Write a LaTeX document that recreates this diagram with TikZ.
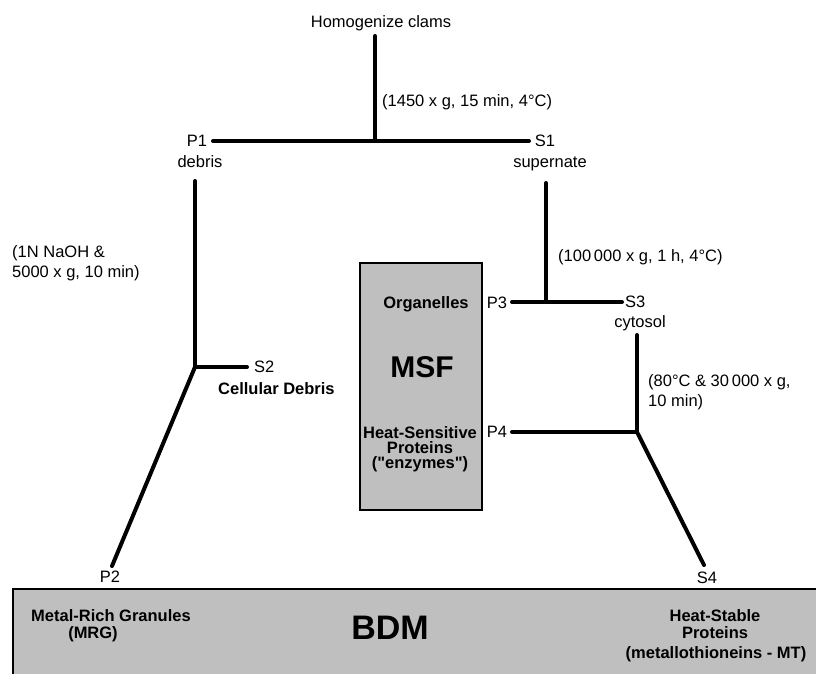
\documentclass[tikz,border=0pt]{standalone}
\usepackage{fontspec}
\setmainfont{Liberation Sans}[Ligatures=TeXOff]
\begin{document}
\begin{tikzpicture}[x=1pt,y=-1pt,
  lbl/.style={font=\fontsize{16.5}{20}\selectfont,inner sep=0pt,text depth=0pt},
  blbl/.style={font=\fontsize{16.5}{15.5}\selectfont\bfseries,inner sep=0pt,text depth=0pt,align=center},
  cond/.style={font=\fontsize{16.5}{20}\selectfont,inner sep=0pt,align=left,anchor=west},
  flow/.style={line width=4pt,line cap=round},
  box/.style={draw=black,line width=1.5pt,fill=boxgray}]
\definecolor{boxgray}{RGB}{191,191,191}
\useasboundingbox (0,0) rectangle (816,673);
\clip (0,0) rectangle (816,673);

% boxes
\draw[box] (360,263) rectangle (482,510);
\draw[box] (13,589) rectangle (830,700);

% coordinates
\coordinate (top) at (375,36);
\coordinate (j1) at (375,141);
\coordinate (p1e) at (213,141);
\coordinate (s1e) at (529,141);
\coordinate (l1) at (195,181);
\coordinate (j2) at (195,367);
\coordinate (s2e) at (247,367);
\coordinate (p2e) at (112,566);
\coordinate (r1) at (546,183);
\coordinate (j3) at (546,302);
\coordinate (p3e) at (512,302);
\coordinate (s3e) at (622,302);
\coordinate (r2) at (637,335);
\coordinate (j4) at (637,432);
\coordinate (p4e) at (512,432);
\coordinate (s4e) at (704,565);

% labels
\node[lbl] (hom) at (381,22) {Homogenize clams};
\node[lbl] (P1) at (197,141) {P1};
\node[lbl] (deb) at (200,162) {debris};
\node[lbl] (S1) at (545,141) {S1};
\node[lbl] (sup) at (550,162) {supernate};
\node[cond] (c1) at (382,102) {(1450 x g, 15 min, 4°C)};
\node[cond] (c2) at (12,263) {(1N NaOH \&\\5000 x g, 10 min)};
\node[lbl,anchor=west] (S2) at (254,367) {S2};
\node[blbl,anchor=west] (cd) at (218,389) {Cellular Debris};
\node[lbl] (P2) at (110,577) {P2};
\node[cond] (c3) at (558,257) {(100\,000 x g, 1 h, 4°C)};
\node[lbl,anchor=west] (S3) at (625,302) {S3};
\node[lbl] (cyt) at (640,322) {cytosol};
\node[cond] (c4) at (648,392) {(80°C \& 30\,000 x g,\\10 min)};
\node[lbl] (P3) at (497,303) {P3};
\node[lbl] (P4) at (497,432) {P4};
\node[lbl] (S4) at (707,578) {S4};

% MSF box texts
\node[blbl] (org) at (426,303) {Organelles};
\node[blbl,font=\fontsize{30}{30}\selectfont\bfseries] (msf) at (422,367) {MSF};
\node[blbl] (hsp1) at (420,433) {Heat-Sensitive};
\node[blbl] (hsp2) at (420,448) {Proteins};
\node[blbl] (hsp3) at (420,463) {("enzymes")};

% BDM box texts
\node[blbl] (mrg1) at (111,616) {Metal-Rich Granules};
\node[blbl] (mrg2) at (93,633) {(MRG)};
\node[blbl,font=\fontsize{34}{34}\selectfont\bfseries] (bdm) at (390,628) {BDM};
\node[blbl] (hs1) at (715,616) {Heat-Stable};
\node[blbl] (hs2) at (715,633) {Proteins};
\node[blbl] (hs3) at (716,653) {(metallothioneins - MT)};

% flow lines
\draw[flow] (top) -- (j1);
\draw[flow] (p1e) -- (s1e);
\draw[flow] (l1) -- (j2) -- (s2e);
\draw[flow] (j2) -- (p2e);
\draw[flow] (r1) -- (j3);
\draw[flow] (p3e) -- (s3e);
\draw[flow] (r2) -- (j4) -- (p4e);
\draw[flow] (j4) -- (s4e);
\end{tikzpicture}
\end{document}
